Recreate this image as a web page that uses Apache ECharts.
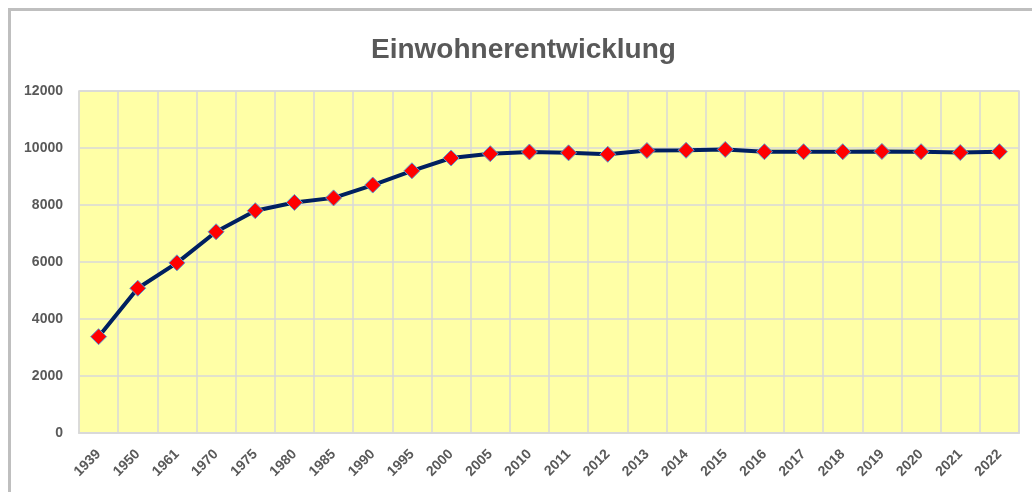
<!DOCTYPE html>
<html>
<head>
<meta charset="utf-8">
<script src="https://cdn.jsdelivr.net/npm/echarts@6/dist/echarts.min.js"></script>
<style>
  html, body { margin: 0; padding: 0; background: #fff; }
  #frame { position: absolute; left: 8px; top: 8px; width: 1040px; height: 500px; border: 3px solid #bfbfbf; box-sizing: border-box; }
  #chart { position: absolute; left: 0; top: 0; width: 1032px; height: 492px; }
</style>
</head>
<body>
<div id="frame"></div>
<div id="chart"></div>
<script>
// Jahre und Einwohnerzahlen
const years = ['1939', '1950', '1961', '1970', '1975', '1980', '1985', '1990', '1995', '2000',
  '2005', '2010', '2011', '2012', '2013', '2014', '2015', '2016', '2017', '2018', '2019', '2020', '2021', '2022'];
const population = [3380, 5080, 5970, 7060, 7800, 8090, 8250, 8700, 9200, 9650,
  9800, 9860, 9830, 9780, 9910, 9920, 9950, 9870, 9870, 9870, 9880, 9870, 9840, 9870];

const chart = echarts.init(document.getElementById('chart'));

chart.setOption({
  animation: false,
  title: {
    text: 'Einwohnerentwicklung',
    left: 366,
    top: 31,
    textStyle: { fontFamily: 'Liberation Sans, Arial', fontWeight: 'bold', fontSize: 28, color: '#595959' }
  },
  grid: {
    left: 79, right: 13, top: 91, bottom: 59,
    show: true,
    backgroundColor: '#ffffa6',
    borderColor: '#d9d9d9',
    borderWidth: 1.5
  },
  xAxis: {
    type: 'category',
    data: years,
    boundaryGap: true,
    axisLine: { show: true, lineStyle: { color: '#d9d9d9', width: 2 } },
    axisTick: { show: false },
    splitLine: { show: true, interval: 0, lineStyle: { color: '#d9d9d9', width: 1.5 } },
    axisLabel: {
      rotate: 45, interval: 0, margin: 19,
      fontFamily: 'Liberation Sans, Arial',
      fontWeight: 'bold', fontSize: 14, color: '#595959'
    }
  },
  yAxis: {
    type: 'value',
    min: 0,
    max: 12000,
    interval: 2000,
    axisLine: { show: false },
    axisTick: { show: false },
    splitLine: { show: true, lineStyle: { color: '#d9d9d9', width: 1.5 } },
    axisLabel: {
      margin: 16,
      formatter: (v) => String(v),
      fontFamily: 'Liberation Sans, Arial',
      fontWeight: 'bold', fontSize: 14, color: '#595959'
    }
  },
  series: [{
    type: 'line',
    data: population,
    symbol: 'diamond',
    symbolSize: 16,
    lineStyle: { color: '#002060', width: 4 },
    itemStyle: { color: '#ff0000', borderColor: '#5b9bd5', borderWidth: 1 }
  }]
});
</script>
</body>
</html>
